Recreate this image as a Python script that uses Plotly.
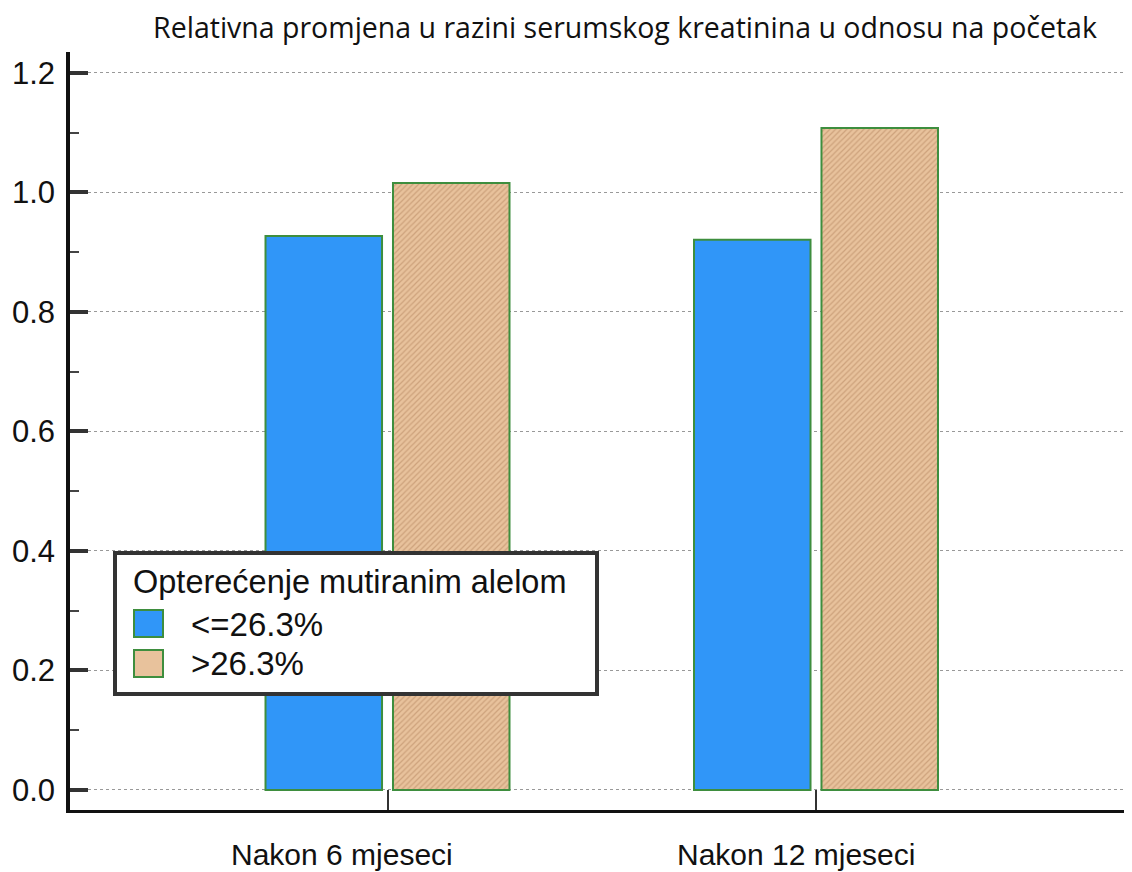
import plotly.graph_objects as go

categories = ["Nakon 6 mjeseci", "Nakon 12 mjeseci"]
low_burden = [0.927, 0.921]
high_burden = [1.016, 1.108]
series_names = ["<=26.3%", ">26.3%"]
legend_title = "Opterećenje mutiranim alelom"
chart_title = "Relativna promjena u razini serumskog kreatinina u odnosu na početak"
y_ticks = [0.0, 0.2, 0.4, 0.6, 0.8, 1.0, 1.2]
# category labels sit slightly left of their tick in the reference (in category units)
label_shift = [-0.106, -0.047]

# page body has an 8px margin, so the figure is 8px smaller and
# all reference pixel positions are shifted by OFF
OFF = 8
W, H = 1132 - OFF, 872 - OFF
ML, MR, MT, MB = 70 - OFF, 0, 52 - OFF, 62

BLUE = "#3096F8"
TAN = "#E8C29C"
EDGE = "#3E8E3E"
AX = "#111111"
SANS = "Liberation Sans"

fig = go.Figure()
fig.add_trace(go.Bar(
    x=[0, 1], y=low_burden, name=series_names[0],
    marker=dict(color=BLUE, line=dict(color=EDGE, width=2)),
    showlegend=False,
))
fig.add_trace(go.Bar(
    x=[0, 1], y=high_burden, name=series_names[1],
    marker=dict(color=TAN, line=dict(color=EDGE, width=2),
                pattern=dict(shape="/", bgcolor=TAN, fgcolor="#CDA27C",
                             size=4, solidity=0.3, fillmode="replace")),
    showlegend=False,
))

# paper-coordinate helpers for the hand-drawn legend (page pixel -> paper)
pw = W - ML - MR
ph = H - MT - MB
def px(x):
    return (x - OFF - ML) / pw
def py(y):
    return (H - MB - (y - OFF)) / ph

shapes = [
    dict(type="rect", xref="paper", yref="paper", layer="above",
         x0=px(115), x1=px(597), y0=py(694), y1=py(553),
         fillcolor="white", line=dict(color="#333333", width=4)),
    dict(type="rect", xref="paper", yref="paper", layer="above",
         x0=px(134), x1=px(163), y0=py(637), y1=py(610),
         fillcolor=BLUE, line=dict(color=EDGE, width=2)),
    dict(type="rect", xref="paper", yref="paper", layer="above",
         x0=px(134), x1=px(163), y0=py(677), y1=py(650),
         fillcolor=TAN, line=dict(color=EDGE, width=2)),
]
annos = [
    dict(text=legend_title, xref="paper", yref="paper", x=px(131), y=py(582),
         xanchor="left", yanchor="middle", showarrow=False,
         font=dict(family=SANS, size=32.5, color="#111")),
    dict(text=series_names[0], xref="paper", yref="paper", x=px(189), y=py(624),
         xanchor="left", yanchor="middle", showarrow=False,
         font=dict(family=SANS, size=33, color="#111")),
    dict(text=series_names[1], xref="paper", yref="paper", x=px(189), y=py(663),
         xanchor="left", yanchor="middle", showarrow=False,
         font=dict(family=SANS, size=33, color="#111")),
]
for i, (cat, sh) in enumerate(zip(categories, label_shift)):
    annos.append(dict(text=cat, xref="x", yref="paper", x=i + sh, y=py(855),
                      xanchor="center", yanchor="middle", showarrow=False,
                      font=dict(family=SANS, size=30, color="#111")))

fig.update_layout(
    width=W, height=H,
    margin=dict(l=ML, r=MR, t=MT, b=MB, pad=0, autoexpand=False),
    paper_bgcolor="white", plot_bgcolor="white",
    barmode="group", bargap=0.405, bargroupgap=0.086,
    title=dict(text=chart_title, x=(625 - OFF) / W, xanchor="center",
               y=1 - (28 - OFF) / H, yanchor="middle", yref="container",
               font=dict(family="Open Sans", size=28.5, color="#111")),
    shapes=shapes, annotations=annos,
    font=dict(family=SANS, size=30, color="#111"),
)

fig.update_xaxes(
    type="linear", range=[-0.741, 1.7375], automargin=False,
    tickmode="array", tickvals=[0, 1], ticktext=categories, showticklabels=False,
    ticks="inside", ticklen=20, tickwidth=2, tickcolor="#333",
    showline=True, linecolor=AX, linewidth=3,
    showgrid=False, zeroline=False,
)
fig.update_yaxes(
    range=[-0.0335, 1.2351], automargin=False,
    tickmode="array", tickvals=y_ticks, ticktext=[f"{v:.1f}" for v in y_ticks],
    ticks="inside", ticklen=18, tickwidth=4, tickcolor="#333",
    minor=dict(ticks="inside", ticklen=9, tickwidth=2, tickcolor="#444", dtick=0.1, tick0=0,
               showgrid=False),
    showline=True, linecolor=AX, linewidth=3.5,
    showgrid=True, gridcolor="#999999", gridwidth=1, griddash="dot",
    zeroline=False,
    ticklabelstandoff=5,
    tickfont=dict(family=SANS, size=31, color="#111"),
)

fig.write_html("out.html")
